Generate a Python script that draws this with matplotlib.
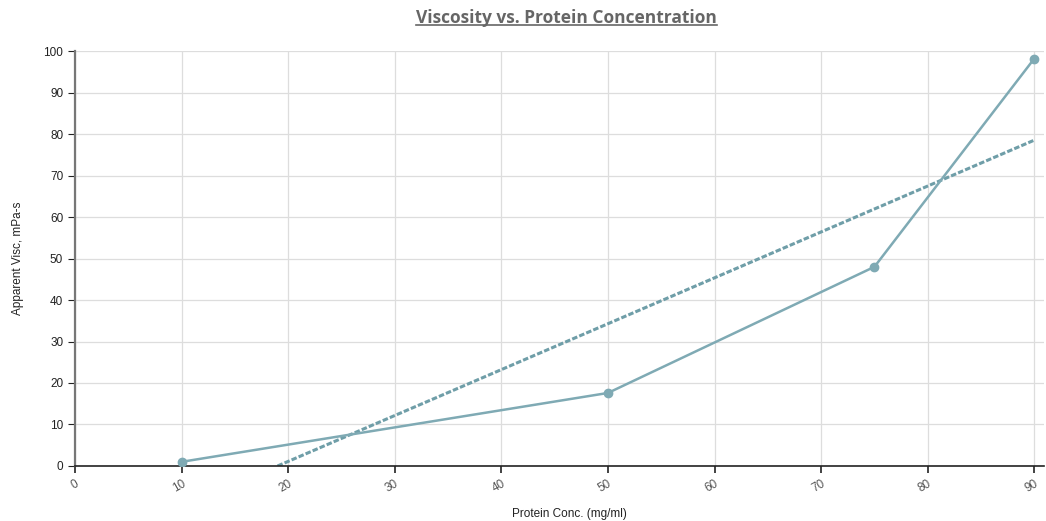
import numpy as np
import matplotlib
matplotlib.use("Agg")
import matplotlib.pyplot as plt

# Protein concentration (mg/ml) vs apparent viscosity (mPa-s)
conc = [10, 50, 75, 90]
visc = [1.0, 17.6, 48.0, 98.2]
x_ticks = [0, 10, 20, 30, 40, 50, 60, 70, 80, 90]
y_ticks = [0, 10, 20, 30, 40, 50, 60, 70, 80, 90, 100]

line_color = "#7faab4"
trend_color = "#6f9ea8"

plt.rcParams['font.family'] = ['Liberation Sans', 'DejaVu Sans']

fig = plt.figure(figsize=(10.46, 5.21), dpi=100)
ax = fig.add_axes([0.0717, 0.1056, 0.9263, 0.7964])

# data line with markers
ax.plot(conc, visc, color=line_color, linewidth=1.8, marker='o', markersize=6,
        markerfacecolor=line_color, markeredgecolor=line_color, zorder=3)

# linear trend line
slope, intercept = np.polyfit(conc, visc, 1)
x_start = -intercept / slope
tx = np.array([x_start, conc[-1]])
ax.plot(tx, slope * tx + intercept, color=trend_color, linewidth=2.2,
        linestyle=(0, (1.8, 0.7)), zorder=2)

ax.set_xlim(0, 90.9)
ax.set_ylim(0, 100)
ax.set_xticks(x_ticks)
ax.set_yticks(y_ticks)
ax.grid(True, color="#dddddd", linewidth=0.9)
ax.set_axisbelow(True)

for s in ['top', 'right']:
    ax.spines[s].set_visible(False)
ax.spines['left'].set_color('#777777')
ax.spines['left'].set_linewidth(1.6)
ax.spines['bottom'].set_color('#222222')
ax.spines['bottom'].set_linewidth(1.2)

ax.tick_params(axis='y', labelsize=8.5, colors='#222222', length=5, width=0.8)
ax.tick_params(axis='x', labelsize=8.5, colors='#222222', labelcolor='#555555', length=5, width=1.2)
for lbl in ax.get_xticklabels():
    lbl.set_rotation(30)
    lbl.set_ha('right')
    lbl.set_rotation_mode('anchor')

ax.set_xlabel('Protein Conc. (mg/ml)', fontsize=8.5, color='#222222')
ax.xaxis.set_label_coords(0.51, -0.101)
ax.set_ylabel('Apparent Visc, mPa-s', fontsize=8.5, color='#222222', labelpad=14)

title = fig.text(0.542, 0.965, 'Viscosity vs. Protein Concentration', ha='center', va='center',
                 fontsize=12.5, fontweight='bold', color='#666666', family=['Open Sans', 'DejaVu Sans'])
# underline for the title
fig.canvas.draw()
bb = title.get_window_extent()
inv = fig.transFigure.inverted()
(x0, y0), (x1, y1) = inv.transform([(bb.x0, bb.y0), (bb.x1, bb.y1)])
fig.add_artist(plt.Line2D([x0, x1], [y0 + 0.004, y0 + 0.004], color='#666666', linewidth=1.2,
                          transform=fig.transFigure))

fig.savefig('out.png', dpi=100)
